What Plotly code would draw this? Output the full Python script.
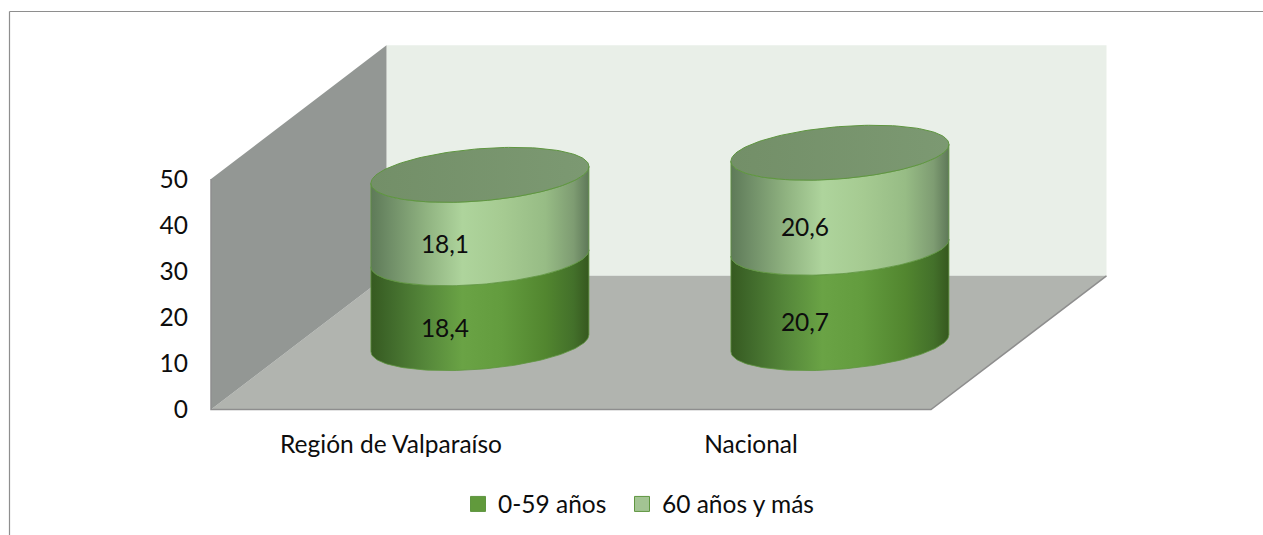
import numpy as np
import plotly.graph_objects as go

# ---- data ----
categories = ["Región de Valparaíso", "Nacional"]
series_names = ["0-59 años", "60 años y más"]
values_young = [18.4, 20.7]
values_old = [18.1, 20.6]
y_ticks = [0, 10, 20, 30, 40, 50]

# ---- figure / scale set-up ----
W, H = 1263, 535
PX_PER_UNIT = 4.61      # pixels per value unit
Y0_PX = 409.5           # pixel row of value 0
PX_PER_CAT = 360.0      # pixels per category
X0_PX = 391.0           # pixel column of first category
xr = [(0 - X0_PX) / PX_PER_CAT, (W - X0_PX) / PX_PER_CAT]
yr = [(Y0_PX - H) / PX_PER_UNIT, Y0_PX / PX_PER_UNIT]

# pseudo-3D box, in category/value units
X_L, X_R = -0.5, 1.5
DEPTH_X = 175.5 / PX_PER_CAT
DEPTH_Y = 29.0
Y_TOP = 50

# cylinders
RX = 109 / PX_PER_CAT
RY = 5.67
SHEAR = 1.84
MID_DX = 0.247
MID_DY = 14.4

LOW_SCALE = [[0, "#365A20"], [0.08, "#3F682A"], [0.25, "#55873A"], [0.42, "#6AA345"],
             [0.6, "#639C3E"], [0.8, "#52862F"], [0.93, "#43702A"], [1, "#36581F"]]
HIGH_SCALE = [[0, "#5E7A58"], [0.08, "#6E8C66"], [0.25, "#8FB280"], [0.42, "#AED49C"],
              [0.6, "#A6CB92"], [0.8, "#97BC85"], [0.93, "#7E9C72"], [1, "#5E7858"]]
TOP_SCALE = [[0, "#738F68"], [1, "#7C9972"]]
EDGE = "#5F9640"
FONT = "Lato"
FS = 24.5
TEXT = "#0D0D0D"

fig = go.Figure()


def poly(xs, ys, color):
    fig.add_trace(go.Scatter(x=xs, y=ys, mode="lines", fill="toself", fillcolor=color,
                             line=dict(width=0, color=color), showlegend=False, hoverinfo="skip"))


# walls
poly([X_L + DEPTH_X, X_R + DEPTH_X, X_R + DEPTH_X, X_L + DEPTH_X],
     [DEPTH_Y, DEPTH_Y, DEPTH_Y + Y_TOP, DEPTH_Y + Y_TOP], "#E9EFE8")
poly([X_L, X_R, X_R + DEPTH_X, X_L + DEPTH_X], [0, 0, DEPTH_Y, DEPTH_Y], "#B1B4AF")
poly([X_L, X_L + DEPTH_X, X_L + DEPTH_X, X_L], [0, DEPTH_Y, DEPTH_Y + Y_TOP, Y_TOP], "#939794")
fig.add_trace(go.Scatter(x=[X_L, X_L, X_R, X_R + DEPTH_X], y=[Y_TOP, 0, 0, DEPTH_Y], mode="lines",
                         line=dict(color="#8E8E8E", width=1.5), showlegend=False, hoverinfo="skip"))


def arc(c, level, t):
    return (c + MID_DX + RX * np.cos(t),
            level + SHEAR * np.cos(t) - RY * np.sin(t))


def side(c, lo, hi, scale):
    t = np.linspace(0, np.pi, 80)
    x1, y1 = arc(c, lo, t)
    x2, y2 = arc(c, hi, t[::-1])
    fig.add_trace(go.Scatter(
        x=np.r_[x1, x2, x1[0]], y=np.r_[y1, y2, y1[0]], mode="lines", fill="toself",
        fillgradient=dict(type="horizontal", colorscale=scale),
        line=dict(color=EDGE, width=0.8), showlegend=False, hoverinfo="skip"))


label_x, label_y, label_text = [], [], []
for i in range(len(categories)):
    b0 = MID_DY
    b1 = b0 + values_young[i]
    b2 = b1 + values_old[i]
    side(i, b0, b1, LOW_SCALE)
    side(i, b1, b2, HIGH_SCALE)
    t = np.linspace(0, 2 * np.pi, 160)
    xe, ye = arc(i, b2, t)
    fig.add_trace(go.Scatter(x=xe, y=ye, mode="lines", fill="toself",
                             fillgradient=dict(type="horizontal", colorscale=TOP_SCALE),
                             line=dict(color=EDGE, width=1), showlegend=False, hoverinfo="skip"))
    for lo, hi, v in ((b0, b1, values_young[i]), (b1, b2, values_old[i])):
        label_x.append(i + MID_DX - 0.097)
        label_y.append((lo + hi) / 2 - 6.5)
        label_text.append(f"{v:.1f}".replace(".", ","))

fig.add_trace(go.Scatter(x=label_x, y=label_y, text=label_text, mode="text",
                         textposition="middle center", textfont=dict(family=FONT, size=FS, color=TEXT),
                         showlegend=False, hoverinfo="skip"))

# legend entries
for name, col, lw in zip(series_names, ["#619A3C", "#A3C493"], [119, 170]):
    fig.add_trace(go.Scatter(x=[None], y=[None], mode="markers", name=name, legendwidth=lw,
                             marker=dict(symbol="square", size=15, color=col,
                                         line=dict(color="#5F9640", width=1))))

# frame
frame = dict(type="line", xref="paper", yref="paper", line=dict(color="#8E8E8E", width=1.2))
fig.update_layout(
    width=W, height=H, margin=dict(l=0, r=0, t=0, b=0), autosize=False,
    paper_bgcolor="white", plot_bgcolor="white",
    font=dict(family=FONT, size=FS, color=TEXT),
    xaxis=dict(range=xr, domain=[0, 1], anchor="free", position=(H - Y0_PX) / H,
               tickmode="array", tickvals=[0, 1], ticktext=categories,
               showgrid=False, zeroline=False, showline=False, ticks="", ticklabelstandoff=18),
    yaxis=dict(range=yr, domain=[0, 1], anchor="free", position=212 / W,
               tickmode="array", tickvals=y_ticks, ticktext=[str(v) for v in y_ticks],
               showgrid=False, zeroline=False, showline=False, ticks="", ticklabelstandoff=24),
    legend=dict(orientation="h", x=458 / W, xanchor="left", y=(H - 504) / H, yanchor="middle",
                bgcolor="rgba(0,0,0,0)", font=dict(family=FONT, size=FS, color=TEXT),
                itemclick=False, itemdoubleclick=False),
    shapes=[dict(frame, x0=9.5 / W, x1=1, y0=(H - 11.5) / H, y1=(H - 11.5) / H),
            dict(frame, x0=9.5 / W, x1=9.5 / W, y0=0, y1=(H - 11.5) / H)],
)
fig.write_html("out.html", config=dict(displayModeBar=False),
               post_script="document.body.style.margin='0';")
